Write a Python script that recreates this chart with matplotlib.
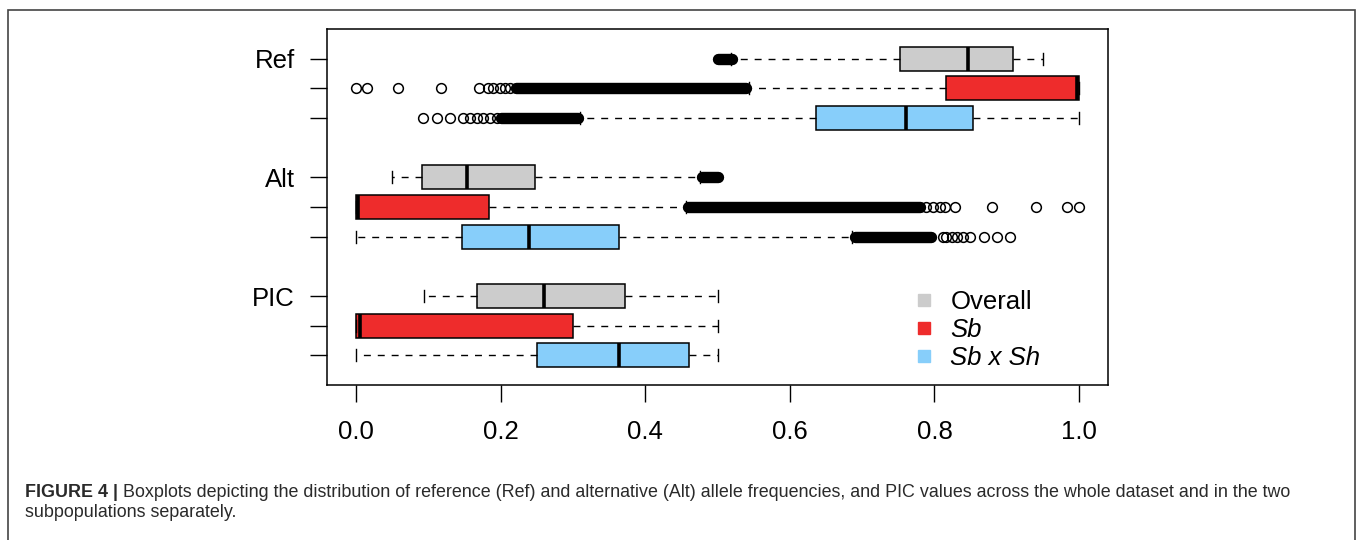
import matplotlib
matplotlib.use("Agg")
import matplotlib.pyplot as plt
from matplotlib.lines import Line2D
from matplotlib.patches import Rectangle

plt.rcParams["font.family"] = ["Liberation Sans", "DejaVu Sans"]

# rows top to bottom: Ref, Alt, PIC, each split into Overall / Sb / Sb x Sh
variables = ["Ref", "Alt", "PIC"]
groups = ["Overall", "Sb", "Sb x Sh"]
colors = ["#CCCCCC", "#EE2C2C", "#87CEFA"]

q1 = [0.752, 0.816, 0.636, 0.092, 0.000, 0.147, 0.168, 0.000, 0.250]
med = [0.846, 0.997, 0.760, 0.154, 0.003, 0.239, 0.260, 0.005, 0.364]
q3 = [0.908, 1.000, 0.853, 0.247, 0.184, 0.364, 0.372, 0.300, 0.460]
whislo = [0.518, 0.543, 0.310, 0.050, 0.000, 0.000, 0.094, 0.000, 0.000]
whishi = [0.950, 1.000, 1.000, 0.476, 0.456, 0.686, 0.500, 0.500, 0.500]

# isolated outliers
fliers = [
    [],
    [0.000, 0.015, 0.058, 0.118, 0.170, 0.183, 0.190, 0.199, 0.206, 0.213],
    [0.093, 0.112, 0.130, 0.148, 0.158, 0.167, 0.176, 0.185, 0.195],
    [],
    [0.789, 0.798, 0.808, 0.815, 0.829, 0.880, 0.941, 0.983, 1.000],
    [0.812, 0.816, 0.824, 0.831, 0.840, 0.849, 0.869, 0.887, 0.905],
    [],
    [],
    [],
]
# stretches where the outliers are packed into a solid run
dense_lo = [0.501, 0.222, 0.200, 0.478, 0.459, 0.690, None, None, None]
dense_hi = [0.520, 0.539, 0.307, 0.500, 0.780, 0.795, None, None, None]

positions = [1, 2, 3, 5, 6, 7, 9, 10, 11]
xticks = [0.0, 0.2, 0.4, 0.6, 0.8, 1.0]

fig = plt.figure(figsize=(13.6, 5.4), dpi=100)
ax = fig.add_axes([327 / 1360, 1 - 385 / 540, (1108 - 327) / 1360, (385 - 29) / 540])

stats = []
for i in range(len(positions)):
    stats.append(dict(q1=q1[i], med=med[i], q3=q3[i], whislo=whislo[i],
                      whishi=whishi[i], fliers=fliers[i]))

bp = ax.bxp(stats, positions=positions, widths=0.8, orientation="horizontal",
            patch_artist=True, showfliers=True,
            boxprops=dict(edgecolor="black", linewidth=1.1),
            medianprops=dict(color="black", linewidth=2.6, solid_capstyle="butt"),
            whiskerprops=dict(color="black", linewidth=1.0, linestyle=(0, (5, 5))),
            capprops=dict(color="black", linewidth=1.0),
            flierprops=dict(marker="o", markerfacecolor="none", markeredgecolor="black",
                            markersize=7, markeredgewidth=1.1))
for i, box in enumerate(bp["boxes"]):
    box.set_facecolor(colors[i % 3])

for i, pos in enumerate(positions):
    if dense_lo[i] is not None:
        ax.plot([dense_lo[i], dense_hi[i]], [pos, pos], color="black", linewidth=8.2,
                solid_capstyle="round", zorder=3)

ax.set_xlim(-0.04, 1.04)
ax.set_ylim(12, 0)
ax.set_xticks(xticks)
ax.set_xticklabels([f"{v:.1f}" for v in xticks])
ylabels = []
for v in variables:
    ylabels += [v, "", ""]
ax.set_yticks(positions)
ax.set_yticklabels(ylabels)
ax.tick_params(axis="both", length=12, width=1.0, labelsize=18.5, color="black")
ax.tick_params(axis="x", pad=13)
ax.tick_params(axis="y", pad=11)
for s in ax.spines.values():
    s.set_linewidth(1.1)

handles = [Line2D([], [], marker="s", linestyle="none", markersize=9,
                  markerfacecolor=c, markeredgecolor=c) for c in colors]
leg = ax.legend(handles, groups, loc="center left", bbox_to_anchor=(0.776, 10.15),
                bbox_transform=ax.transData, frameon=False, fontsize=18.5,
                handlelength=0.5, handletextpad=0.8, labelspacing=0.165,
                borderpad=0, borderaxespad=0)
for t in leg.get_texts()[1:]:
    t.set_style("italic")

# caption under the plot
cap = fig.text(25 / 1360, 1 - 501 / 540, "FIGURE 4 |", fontsize=12.9, fontweight="bold",
               color="#2a2a2a", va="bottom")
ax.annotate(" Boxplots depicting the distribution of reference (Ref) and alternative (Alt) "
            "allele frequencies, and PIC values across the whole dataset and in the two",
            xy=(1, 0), xycoords=cap, va="bottom", ha="left", fontsize=12.9,
            color="#2a2a2a", annotation_clip=False)
fig.text(25 / 1360, 1 - 521 / 540, "subpopulations separately.", fontsize=12.9,
         color="#2a2a2a", va="bottom")

fig.add_artist(Rectangle((8 / 1360, -0.1), (1355 - 8) / 1360, 1.1 - 10 / 540,
                         transform=fig.transFigure, fill=False,
                         edgecolor="#444444", linewidth=1.2))

fig.savefig("out.png", dpi=100)
